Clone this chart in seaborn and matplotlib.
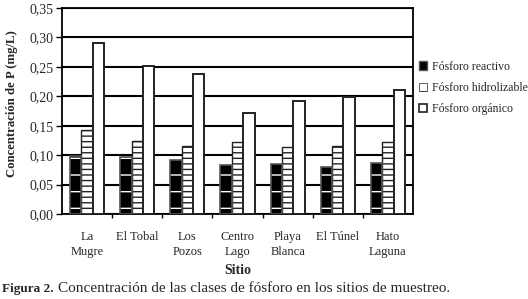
import numpy as np
import pandas as pd
import matplotlib
matplotlib.use('Agg')
import matplotlib.pyplot as plt
from matplotlib.patches import Patch, Rectangle
from matplotlib.ticker import FixedLocator, FuncFormatter
import seaborn as sns

# data
sitios = ['La\nMugre', 'El Tobal', 'Los\nPozos', 'Centro\nLago', 'Playa\nBlanca', 'El Túnel', 'Hato\nLaguna']
reactivo = [0.098, 0.096, 0.091, 0.083, 0.085, 0.080, 0.087]
hidrolizable = [0.142, 0.124, 0.116, 0.123, 0.113, 0.116, 0.123]
organico = [0.290, 0.252, 0.238, 0.172, 0.192, 0.199, 0.211]
series = ['Fósforo reactivo', 'Fósforo hidrolizable', 'Fósforo orgánico']

df = pd.DataFrame({
    'Sitio': sitios * 3,
    'valor': reactivo + hidrolizable + organico,
    'clase': [s for s in series for _ in sitios],
})

sns.set_theme(style='white')
plt.rcParams['font.family'] = ['Liberation Serif', 'DejaVu Serif']
plt.rcParams['hatch.linewidth'] = 1.0

fig = plt.figure(figsize=(5.28, 2.99), dpi=100)
ax = fig.add_axes([62 / 528, 1 - 214 / 299, 351 / 528, 206 / 299])

sns.barplot(data=df, x='Sitio', y='valor', hue='clase', order=sitios,
            hue_order=series, width=0.68, legend=False, ax=ax, zorder=3,
            saturation=1)

# styling of each series
c_reac, c_hid, c_org = ax.containers
for p in c_reac:
    p.set_facecolor('black')
    p.set_edgecolor('white')
    p.set_hatch('-')
    p.set_linewidth(0)
    ax.add_patch(Rectangle(p.get_xy(), p.get_width(), p.get_height(), fill=False,
                           ec='#555555', lw=1.2, zorder=4))
for p in c_hid:
    p.set_facecolor('white')
    p.set_edgecolor('#222222')
    p.set_hatch('---')
    p.set_linewidth(1.0)
for p in c_org:
    p.set_facecolor('white')
    p.set_edgecolor('#222222')
    p.set_linewidth(1.4)

ax.set_ylim(0, 0.35)
ax.set_xlim(-0.5, 6.5)
ax.set_yticks(np.arange(0, 0.351, 0.05))
ax.yaxis.set_major_formatter(FuncFormatter(lambda v, _: f'{v:.2f}'.replace('.', ',')))
ax.yaxis.grid(True, color='black', lw=1.5, zorder=0)
ax.set_axisbelow(True)
for s in ax.spines.values():
    s.set_color('black')
    s.set_linewidth(1.3)

ax.tick_params(axis='y', which='major', direction='out', length=4, width=1, color='black',
               left=True, labelsize=10, pad=2)
ax.tick_params(axis='x', which='major', length=0, labelsize=9, pad=12)
ax.xaxis.set_minor_locator(FixedLocator(np.arange(0.5, 6, 1)))
ax.tick_params(axis='x', which='minor', direction='out', length=3, width=1, color='black', bottom=True)
for lbl in ax.get_xticklabels():
    lbl.set_linespacing(1.4)

ax.set_xlabel('Sitio', fontsize=10, fontweight='bold', labelpad=4)
ax.set_ylabel('Concentración de P (mg/L)', fontsize=9.2, fontweight='bold')
ax.yaxis.set_label_coords(-44 / 351, (214 - 104) / 206)

handles = [
    Patch(facecolor='black', edgecolor='#555555', hatch='', label=series[0]),
    Patch(facecolor='white', edgecolor='#222222', hatch='-', lw=0.5, label=series[1]),
    Patch(facecolor='white', edgecolor='#222222', lw=1.2, label=series[2]),
]
fig.legend(handles=handles, loc='upper left', bbox_to_anchor=(414 / 528, 1 - 56 / 299),
           frameon=False, fontsize=8.5, handlelength=0.7, handleheight=0.7,
           handletextpad=0.4, labelspacing=0.78, borderaxespad=0)

t1 = fig.text(0.004, 0.022, 'Figura 2.', fontsize=9.5, fontweight='bold', ha='left', va='baseline')
fig.canvas.draw()
bb = t1.get_window_extent().transformed(fig.transFigure.inverted())
fig.text(bb.x1 + 0.008, 0.022, 'Concentración de las clases de fósforo en los sitios de muestreo.',
         fontsize=11, ha='left', va='baseline')

fig.savefig('out.png', dpi=100)
